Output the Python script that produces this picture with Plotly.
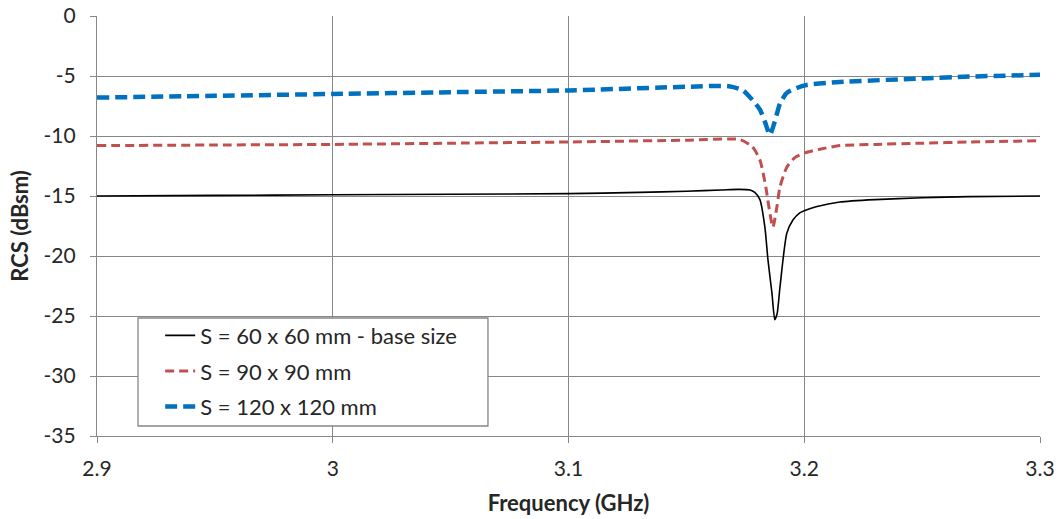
import plotly.graph_objects as go

# Frequency sweep (GHz) and RCS (dBsm) for each patch size
freq_60 = [2.90, 2.95, 3.00, 3.05, 3.10, 3.13, 3.15, 3.165, 3.172, 3.177, 3.179, 3.1812,
           3.1833, 3.1846, 3.1863, 3.1875, 3.1885, 3.1897, 3.1926, 3.1952, 3.1981, 3.2003,
           3.205, 3.2151, 3.23, 3.25, 3.27, 3.30]
rcs_60 = [-15.0, -14.95, -14.9, -14.85, -14.8, -14.7, -14.6, -14.5, -14.45, -14.5, -14.7, -15.3,
          -17.6, -20.3, -23.1, -25.3, -24.8, -22.6, -18.1, -17.0, -16.4, -16.2,
          -15.9, -15.5, -15.3, -15.15, -15.05, -15.0]

freq_90 = [2.90, 2.95, 3.00, 3.05, 3.10, 3.15, 3.1727, 3.178, 3.1812, 3.1837, 3.185, 3.1867,
           3.1884, 3.1897, 3.1926, 3.196, 3.2003, 3.2066, 3.2151, 3.23, 3.25, 3.27, 3.30]
rcs_90 = [-10.8, -10.75, -10.7, -10.6, -10.5, -10.35, -10.3, -10.9, -12.0, -14.25, -15.9, -17.6,
          -15.9, -14.25, -12.6, -11.8, -11.4, -11.1, -10.8, -10.7, -10.6, -10.5, -10.4]

freq_120 = [2.90, 2.95, 3.00, 3.05, 3.10, 3.15, 3.168, 3.174, 3.178, 3.1812, 3.1833, 3.1854,
            3.1875, 3.1897, 3.1926, 3.1968, 3.201, 3.2151, 3.25, 3.27, 3.30]
rcs_120 = [-6.8, -6.65, -6.5, -6.35, -6.2, -5.9, -5.85, -6.2, -7.0, -7.8, -8.8, -9.9,
           -8.8, -7.3, -6.4, -6.0, -5.75, -5.5, -5.2, -5.05, -4.9]

names = ["S = 60 x 60 mm - base size", "S = 90 x 90 mm", "S = 120 x 120 mm"]

x_ticks = [2.9, 3.0, 3.1, 3.2, 3.3]
x_labels = ["2.9", "3", "3.1", "3.2", "3.3"]
y_ticks = [0, -5, -10, -15, -20, -25, -30, -35]
y_labels = ["0", "-5", "-10", "-15", "-20", "-25", "-30", "-35"]

FONT = "Lato, 'Open Sans', sans-serif"
GRID = "#878787"
TEXT = "#262626"

fig = go.Figure()
fig.add_trace(go.Scatter(x=freq_60, y=rcs_60, name=names[0], mode="lines", legendgroup="a",
                         line=dict(color="#000000", width=1.6, shape="spline", smoothing=0.6)))
fig.add_trace(go.Scatter(x=freq_90, y=rcs_90, name=names[1], mode="lines", legendgroup="b",
                         line=dict(color="#C0504D", width=3, dash="9px,5px",
                                   shape="spline", smoothing=0.6)))
fig.add_trace(go.Scatter(x=freq_120, y=rcs_120, name=names[2], mode="lines", legendgroup="c",
                         line=dict(color="#0070C0", width=4.5, dash="12px,6px",
                                   shape="spline", smoothing=0.6)))

# Opaque legend panel (covers gridlines and curves beneath the legend)
fig.add_shape(type="rect", xref="paper", yref="paper",
              x0=0.0435, x1=0.4146, y0=0.0238, y1=0.281,
              fillcolor="white", line=dict(color=GRID, width=1.3), layer="above")

fig.update_layout(
    width=1064, height=519,
    margin=dict(l=97, r=24, t=16, b=83),
    paper_bgcolor="white", plot_bgcolor="white",
    font=dict(family=FONT, size=21, color=TEXT),
    showlegend=True,
    legend=dict(x=0.067, y=0.289, xanchor="left", yanchor="top",
                bgcolor="rgba(0,0,0,0)", borderwidth=0,
                font=dict(size=22, color=TEXT),
                tracegroupgap=4, itemwidth=30),
)

fig.update_xaxes(
    range=[2.9, 3.3], tickvals=x_ticks, ticktext=x_labels, automargin=False,
    showgrid=True, gridcolor=GRID, gridwidth=1.2,
    showline=True, linecolor=GRID, linewidth=1.3,
    ticks="outside", ticklen=6, tickcolor=GRID, ticklabelstandoff=8,
    zeroline=False,
    title=dict(text="<b>Frequency (GHz)</b>", font=dict(size=22), standoff=16),
)
fig.update_yaxes(
    range=[-35, 0], tickvals=y_ticks, ticktext=y_labels, automargin=False,
    showgrid=True, gridcolor=GRID, gridwidth=1.2,
    showline=True, linecolor=GRID, linewidth=1.3,
    ticks="outside", ticklen=6, tickcolor=GRID, ticklabelstandoff=10,
    zeroline=False,
    title=dict(text="<b>RCS (dBsm)</b>", font=dict(size=22), standoff=8),
)

fig.write_html("out.html")
